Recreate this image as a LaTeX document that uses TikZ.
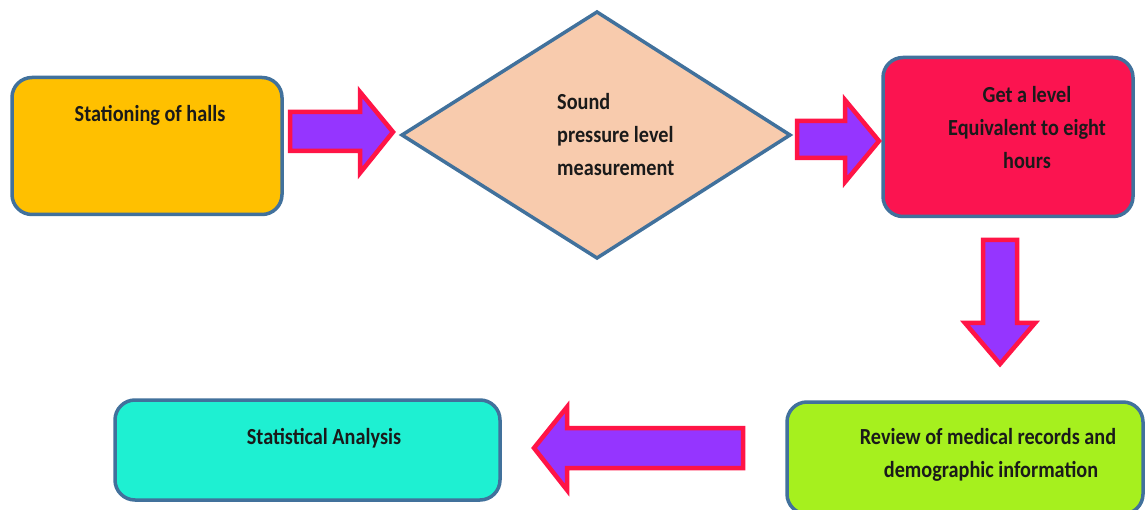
\documentclass[tikz,border=0pt]{standalone}
\usepackage{fontspec}
\newfontfamily\lblfont{Carlito}[FakeStretch=0.88]
\definecolor{edgeblue}{HTML}{41719C}
\definecolor{goldfill}{HTML}{FFC000}
\definecolor{peachfill}{HTML}{F8CBAD}
\definecolor{redfill}{HTML}{FB1450}
\definecolor{limefill}{HTML}{A6F01E}
\definecolor{cyanfill}{HTML}{1EF0D2}
\definecolor{arrowfill}{HTML}{9535FF}
\definecolor{arrowedge}{HTML}{FF1446}
\definecolor{inkcol}{HTML}{1A1A1A}
\tikzset{
  boxstyle/.style={draw=edgeblue, line width=3.5pt, rounded corners=20pt, inner sep=0pt},
  diastyle/.style={draw=edgeblue, line width=3.5pt, fill=peachfill, line join=miter},
  blockarrow/.style={draw=arrowedge, fill=arrowfill, line width=4.5pt, line join=miter},
  lbl/.style={font=\lblfont\bfseries\fontsize{23}{33}\selectfont, text=inkcol, inner sep=0pt, align=center},
  lblleft/.style={lbl, align=left, anchor=west}
}
\begin{document}
\begin{tikzpicture}[x=1pt,y=-1pt]
\fill[white] (0,0) rectangle (1145,510);
\useasboundingbox (0,0) rectangle (1145,510);
\clip (0,0) rectangle (1145,510);
% boxes
\node[boxstyle, fill=goldfill, minimum width=270pt, minimum height=137pt] (stat) at (147,146) {};
\node[lbl] (stattext) at (150,115) {Stationing of halls};
\draw[diastyle] (402,135) coordinate (dl) -- (597,12) coordinate (dt) -- (790,135) coordinate (dr) -- (597,258) coordinate (db) -- cycle;
\node[lblleft] (soundtext) at (557,135) {Sound\\pressure level\\measurement};
\node[boxstyle, fill=redfill, minimum width=250pt, minimum height=159pt] (leq) at (1008,137) {};
\node[lbl] (leqtext) at (1027,128) {Get a level\\Equivalent to eight\\hours};
\node[boxstyle, fill=limefill, minimum width=356pt, minimum height=112pt] (review) at (965,458) {};
\node[lbl] (reviewtext) at (988,455) {Review of medical records and\\\hspace*{6pt}demographic information};
\node[boxstyle, fill=cyanfill, minimum width=385pt, minimum height=100pt] (analysis) at (307.5,450) {};
\node[lbl] (analysistext) at (324,438) {Statistical Analysis};
% block arrows
\draw[blockarrow] (290,112) -- (360,112) -- (360,92) -- (393,132) -- (360,173) -- (360,151) -- (290,151) -- cycle;
\draw[blockarrow] (797,121) -- (845,121) -- (845,100) -- (879,141) -- (845,182) -- (845,158) -- (797,158) -- cycle;
\draw[blockarrow] (983,240) -- (1017,240) -- (1017,323) -- (1035,323) -- (1000,364) -- (965,323) -- (983,323) -- cycle;
\draw[blockarrow] (743,428) -- (567,428) -- (567,407) -- (534,448) -- (567,490) -- (567,468) -- (743,468) -- cycle;
\end{tikzpicture}
\end{document}
